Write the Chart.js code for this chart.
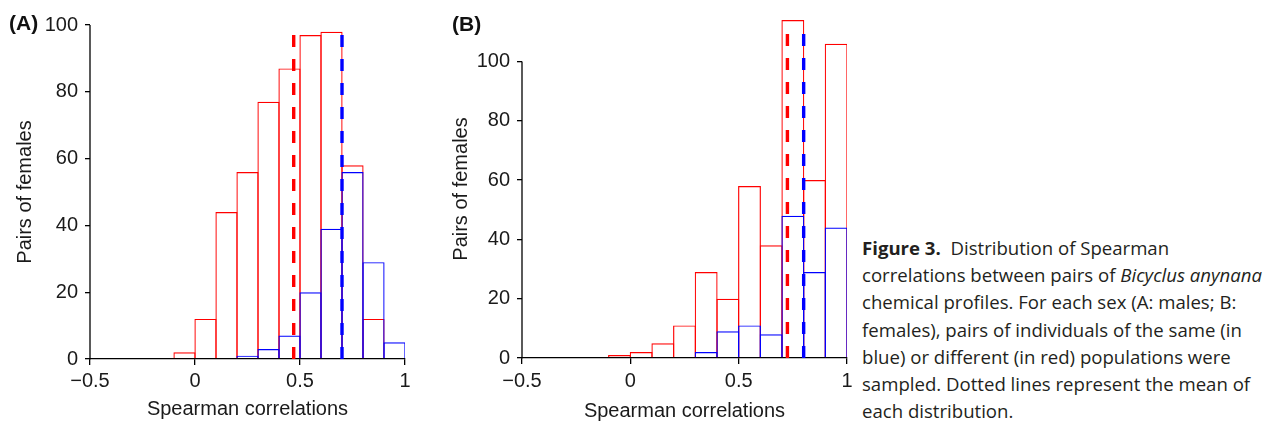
<!DOCTYPE html>
<html>
<head>
<meta charset="utf-8">
<script src="https://cdn.jsdelivr.net/npm/chart.js@4"></script>
<style>
html,body{margin:0;padding:0;background:#fff;}
body{width:1265px;height:423px;position:relative;overflow:hidden;font-family:"Liberation Sans",Arial,sans-serif;}
canvas{position:absolute;top:0;}
#chartA{left:0;}
#chartB{left:440px;}
.lab{position:absolute;font-weight:bold;font-size:21px;color:#111;font-family:"Liberation Sans",Arial,sans-serif;}
#labA{left:9px;top:11px;}
#labB{left:452px;top:12px;}
#caption{position:absolute;left:862px;top:234px;font-family:"Open Sans",sans-serif;font-size:18.6px;line-height:27.2px;color:#231f20;white-space:nowrap;}
</style>
</head>
<body>
<canvas id="chartA" width="440" height="423"></canvas>
<canvas id="chartB" width="420" height="423"></canvas>
<div class="lab" id="labA">(A)</div>
<div class="lab" id="labB">(B)</div>
<div id="caption"><b>Figure 3.</b>&nbsp; Distribution of Spearman<br>correlations between pairs of <i>Bicyclus anynana</i><br>chemical profiles. For each sex (A: males; B:<br>females), pairs of individuals of the same (in<br>blue) or different (in red) populations were<br>sampled. Dotted lines represent the mean of<br>each distribution.</div>
<script>
// ---- data ----
const binCenters = [-0.05, 0.05, 0.15, 0.25, 0.35, 0.45, 0.55, 0.65, 0.75, 0.85, 0.95];
const malesDifferent = [2, 12, 44, 56, 77, 87, 97, 98, 58, 12, 0];
const malesSame = [0, 0, 0, 1, 3, 7, 20, 39, 56, 29, 5];
const femalesDifferent = [1, 2, 5, 11, 29, 20, 58, 38, 114, 60, 106];
const femalesSame = [0, 0, 0, 0, 2, 9, 11, 8, 48, 29, 44];
const malesMeans = [0.47, 0.70];        // [different, same]
const femalesMeans = [0.725, 0.80];     // [different, same]
const malesMeanTops = [97.5, 97.5];
const femalesMeanTops = [113, 113];
const xTickValues = [-0.5, 0, 0.5, 1];
const xTickLabels = ['\u22120.5', '0', '0.5', '1'];
const yTickValues = [0, 20, 40, 60, 80, 100];
const xTitle = 'Spearman correlations';
const yTitle = 'Pairs of females';

const RED = '#ff0000', BLUE = '#0000ff', INK = '#1a1a1a';
const EDGE = 1.2;
Chart.defaults.font.family = "'Liberation Sans', Arial, sans-serif";
Chart.defaults.color = INK;

const rAxisLine = {
  id: 'rAxisLine',
  afterDatasetsDraw(chart) {
    const y = chart.scales.y, ctx = chart.ctx, x0 = chart.chartArea.left;
    ctx.save();
    ctx.strokeStyle = '#000';
    ctx.lineWidth = 1.3;
    ctx.beginPath();
    ctx.moveTo(x0, y.getPixelForValue(yTickValues[0]) + 0.6);
    ctx.lineTo(x0, y.getPixelForValue(yTickValues[yTickValues.length - 1]));
    ctx.stroke();
    ctx.restore();
  }
};

function pts(vals) { return binCenters.map((c, i) => ({x: c, y: vals[i]})); }
function meanLine(m, top) { return [{x: m, y: 0}, {x: m, y: top}]; }

function barSet(vals, color, binPx) {
  // widen each bar by one edge width so neighbouring edges overlap into a single line
  return {data: pts(vals), backgroundColor: 'rgba(0,0,0,0)', borderColor: color, borderWidth: EDGE,
          grouped: false, barPercentage: 1 + EDGE / binPx, categoryPercentage: 1};
}
function meanSet(m, top, color) {
  return {type: 'line', data: meanLine(m, top), borderColor: color, borderWidth: 3.4,
          borderDash: [12, 12], borderCapStyle: 'butt', pointRadius: 0, order: -1};
}

function makeChart(id, diff, same, means, tops, L) {
  return new Chart(document.getElementById(id), {
    type: 'bar',
    data: {
      datasets: [
        meanSet(means[1], tops[1], BLUE),
        meanSet(means[0], tops[0], RED),
        barSet(same, BLUE, L.binPx),
        barSet(diff, RED, L.binPx)
      ]
    },
    options: {
      responsive: false,
      animation: false,
      layout: {padding: {top: L.top, right: L.right, left: 0, bottom: 0}},
      plugins: {legend: {display: false}, tooltip: {enabled: false}},
      scales: {
        x: {
          type: 'linear', min: -0.5, max: 1, offset: false,
          afterBuildTicks: s => { s.ticks = xTickValues.map(v => ({value: v})); },
          afterFit: s => { s.height = L.xh; },
          ticks: {font: {size: 20}, padding: L.xpad, color: INK, maxRotation: 0,
                  callback: (v, i) => xTickLabels[i]},
          grid: {offset: false, drawOnChartArea: false, drawTicks: true, tickLength: 6, color: '#000', lineWidth: 1.3},
          border: {display: true, color: '#000', width: 1.3},
          title: {display: true, text: xTitle, font: {size: 20}, color: INK, padding: {top: 0, bottom: L.xtb}}
        },
        y: {
          min: 0, max: L.ymax,
          afterBuildTicks: s => { s.ticks = yTickValues.map(v => ({value: v})); },
          afterFit: s => { s.width = L.yw; },
          ticks: {font: {size: 20}, padding: 7, color: INK},
          grid: {offset: false, drawOnChartArea: false, drawTicks: true, tickLength: 5, color: '#000', lineWidth: 1.3},
          border: {display: false},
          title: {display: true, text: yTitle, font: {size: 20}, color: INK, padding: {top: L.ytp, bottom: 0}}
        }
      }
    },
    plugins: [rAxisLine]
  });
}

makeChart('chartA', malesDifferent, malesSame, malesMeans, malesMeanTops,
  {top: 25, right: 35, xh: 64, yw: 90, ymax: 100, xpad: 4, xtb: 2, ytp: 13, binPx: 21.0});
makeChart('chartB', femalesDifferent, femalesSame, femalesMeans, femalesMeanTops,
  {top: 20, right: 13, xh: 65, yw: 82, ymax: 114, xpad: 5, xtb: 0, ytp: 9, binPx: 21.7});
</script>
</body>
</html>
